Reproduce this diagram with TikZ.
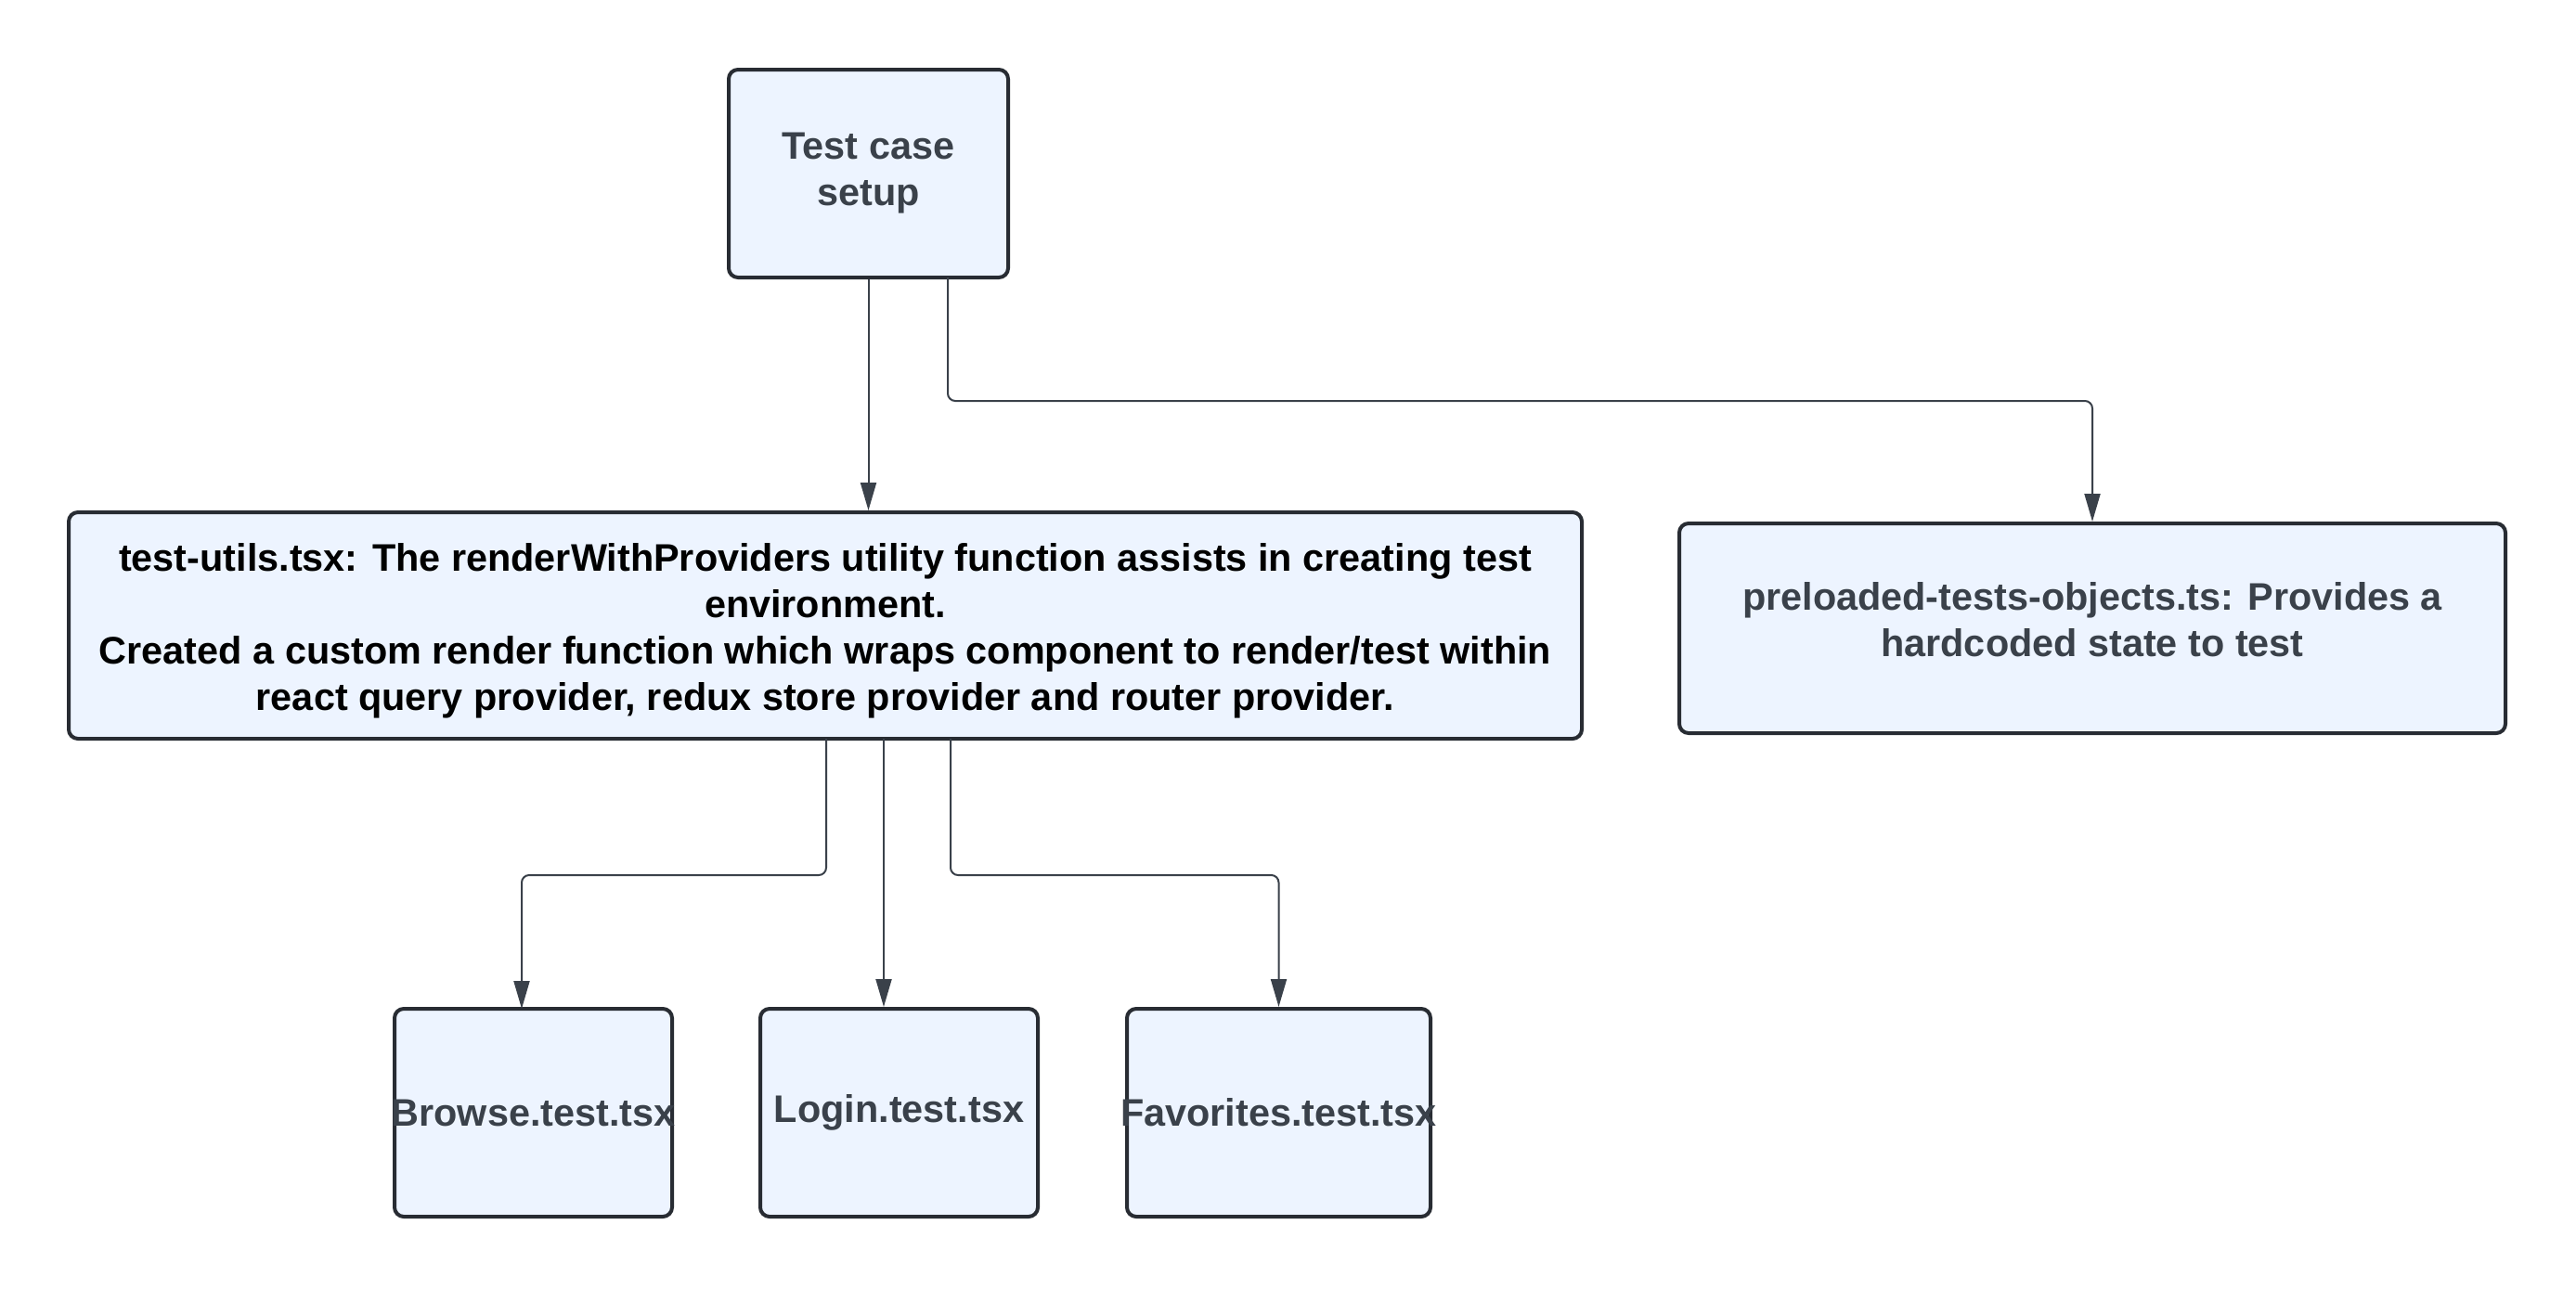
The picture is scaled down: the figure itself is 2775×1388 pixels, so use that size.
\documentclass[tikz,border=0pt]{standalone}
\usepackage{fontspec}
\setmainfont{Liberation Sans}
\usetikzlibrary{arrows.meta}
\definecolor{boxfill}{HTML}{EDF4FF}
\definecolor{boxline}{HTML}{282C33}
\definecolor{inkgray}{HTML}{3A414A}
\begin{document}
\begin{tikzpicture}[x = .5pt, y = -.5pt,
    card/.style = {draw = boxline, fill = boxfill, line width = 2pt, rounded corners = 5pt,
      align = center, text = inkgray, font = \fontsize{20.7}{25}\selectfont\bfseries, inner sep = 0pt},
    link/.style = {draw = inkgray, line width = 1pt, rounded corners = 4pt,
      -{Triangle[length = 15pt, width = 8.5pt]}}]
  \useasboundingbox (0,0) rectangle (2775,1388);
  \node [card, minimum width = 150.5pt, minimum height = 112pt] (setup) at (935.5,187) {Test case\\setup};
  \node [card, text = black, minimum width = 815pt, minimum height = 122pt] (utils) at (889,674)
    {\rule{0pt}{20.3pt}test-utils.tsx: The renderWithProviders utility function assists in creating test\\
     environment.\\
     Created a custom render function which wraps component to render/test within\\
     react query provider, redux store provider and router provider.};
  \node [card, minimum width = 445pt, minimum height = 113pt] (preload) at (2254,677)
    {preloaded-tests-objects.ts: Provides a\\hardcoded state to test\\[-15pt]\mbox{}};
  \node [card, minimum width = 149.5pt, minimum height = 112pt] (browse) at (574.5,1199) {\makebox[0pt]{Browse.test.tsx}};
  \node [card, minimum width = 149.5pt, minimum height = 112pt] (login) at (968.5,1199) {Login.test.tsx};
  \node [card, minimum width = 163.5pt, minimum height = 112pt] (favs) at (1377.5,1199) {\makebox[0pt]{Favorites.test.tsx}};
  % exits
  \coordinate (s2) at (1021,299);
  \coordinate (u1) at (890,796);
  \coordinate (u2) at (952,796);
  \coordinate (u3) at (1024,796);
  \draw [link] (setup.south) -- (setup.south |- utils.north);
  \draw [link] (s2) --++ (0,133) -| (preload.north);
  \draw [link] (u1) --++ (0,147) -| (562,1087);
  \draw [link] (u2) -- (u2 |- login.north);
  \draw [link] (u3) --++ (0,147) -| (favs.north);
\end{tikzpicture}
\end{document}
